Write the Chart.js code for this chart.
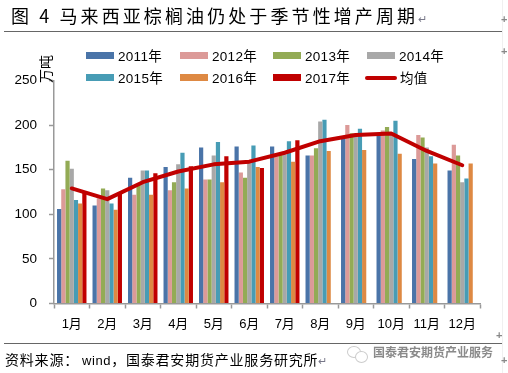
<!DOCTYPE html>
<html>
<head>
<meta charset="utf-8">
<script src="https://cdn.jsdelivr.net/npm/chart.js@4"></script>
<style>
  html, body { margin: 0; padding: 0; background: #fff; }
  #wrap { position: relative; width: 508px; height: 373px; overflow: hidden; font-family: "Liberation Sans", "Noto Sans CJK SC", sans-serif; color: #000; }
  #wrap canvas { position: absolute; left: 0; top: 0; }
  .abs { position: absolute; white-space: nowrap; }
  .rule { position: absolute; left: 4px; width: 498px; height: 1px; background: #666; }
  .mark { position: absolute; color: #888; font-size: 11px; font-weight: bold; line-height: 11px; }
  .para { color: #778; font-size: 11px; }
  .swatch { position: absolute; height: 7px; width: 28px; }
  .circle { position: absolute; border: 1px solid #ccc; border-radius: 50%; background: #fff; }
</style>
</head>
<body>
<div id="wrap">
  <canvas id="chart" width="508" height="373"></canvas>
  <div class="abs" style="left:11px;top:2px;font:18px/26px 'Noto Sans CJK SC';letter-spacing:3.1px">图 4 马来西亚棕榈油仍处于季节性增产周期<span class="para">↵</span></div>
  <div class="rule" style="top:31px"></div>
  <div class="rule" style="top:343px"></div>
  <div style="position:absolute;left:502px;top:0;width:1px;height:373px;background:#f0f0f0"></div>
  <div class="mark" style="left:501px;top:14px">+</div>
  <div class="mark" style="left:501px;top:46px">+</div>
  <div class="mark" style="left:496px;top:330px">+</div>
  <div class="mark" style="left:501px;top:355px">+</div>
  <div class="abs" style="left:30px;top:61px;width:30px;height:16px;font:14px/16px 'Noto Sans CJK SC';text-align:center;transform:rotate(-90deg)">万吨</div>
  <div id="legend"></div>
  <div class="abs" style="left:5px;top:348px;font:14px/22px 'Noto Sans CJK SC';letter-spacing:0.8px">资料来源：<span style="font:13px 'Liberation Sans';letter-spacing:0.6px;margin-left:3px">wind</span>，国泰君安期货产业服务研究所<span class="para">↵</span></div>
  <div class="circle" style="left:347px;top:346px;width:12px;height:10px"></div>
  <div class="circle" style="left:355px;top:351px;width:11px;height:10px"></div>
  <div class="abs" style="left:373px;top:343px;font:12px/18px 'Noto Sans CJK SC';color:#8a8a8a;font-weight:bold">国泰君安期货产业服务</div>
</div>
<script>
const months = ['1月', '2月', '3月', '4月', '5月', '6月', '7月', '8月', '9月', '10月', '11月', '12月'];
const y2011 = [106, 110, 141, 153, 175, 176, 176, 166, 185, 190, 162, 149];
const y2012 = [128, 118, 122, 127, 139, 147, 165, 166, 200, 194, 189, 178];
const y2013 = [160, 129, 133, 136, 139, 141, 167, 174, 191, 198, 186, 166];
const y2014 = [151, 127, 149, 156, 166, 158, 167, 204, 191, 191, 175, 136];
const y2015 = [116, 112, 149, 169, 181, 177, 182, 206, 196, 205, 165, 140];
const y2016 = [112, 105, 122, 129, 136, 153, 159, 171, 172, 168, 157, 157];
const y2017 = [126, 125, 146, 154, 165, 152, 183, null, null, null, null, null];
const mean = [129, 117, 136, 148, 156, 159, 169, 182, 189, 190.5, 171, 155];
const yTicks = [0, 50, 100, 150, 200, 250];

const colors = ['#4A74A8', '#DC9A98', '#93AB55', '#A8A8A8', '#479CB5', '#DE8943', '#C00000'];
const names = ['2011年', '2012年', '2013年', '2014年', '2015年', '2016年', '2017年'];
const series = [y2011, y2012, y2013, y2014, y2015, y2016, y2017];

const datasets = series.map((s, i) => ({
  type: 'bar',
  label: names[i],
  data: s,
  backgroundColor: colors[i],
  barPercentage: 1,
  categoryPercentage: 0.83,
  order: 1
}));
datasets.push({
  type: 'line',
  label: '均值',
  data: mean,
  borderColor: '#C00000',
  borderWidth: 4,
  borderCapStyle: 'round',
  borderJoinStyle: 'round',
  pointRadius: 0,
  tension: 0,
  order: 0
});

new Chart(document.getElementById('chart'), {
  data: { labels: months, datasets: datasets },
  options: {
    responsive: false,
    animation: false,
    layout: { padding: { left: 0, top: 80.5, right: 28, bottom: 0 } },
    plugins: { legend: { display: false }, tooltip: { enabled: false } },
    scales: {
      x: {
        offset: true,
        afterFit: s => { s.height = 69.5; },
        border: { color: '#999', width: 1.5 },
        grid: { offset: true, drawOnChartArea: false, tickColor: '#999', tickLength: 5, tickWidth: 1.5 },
        ticks: { color: '#000', padding: 8, maxRotation: 0, autoSkip: false, font: { size: 13, family: '"Liberation Sans", "Noto Sans CJK SC"' } }
      },
      y: {
        min: 0,
        max: 250,
        afterFit: s => { s.width = 54; },
        afterBuildTicks: s => { s.ticks = yTicks.map(v => ({ value: v })); },
        border: { color: '#999', width: 1.5 },
        grid: { drawOnChartArea: false, tickColor: '#999', tickLength: 5, tickWidth: 1.5 },
        ticks: { color: '#000', padding: 12, font: { size: 13.5, family: '"Liberation Sans"' } }
      }
    }
  }
});

// legend built from the same names and colours, two rows of four
const legendEl = document.getElementById('legend');
const colX = [86, 180, 273, 367];
datasets.forEach((d, i) => {
  const x = colX[i % 4], rowY = i < 4 ? 52 : 74;
  const isLine = d.type === 'line';
  const sw = document.createElement('div');
  sw.className = 'swatch';
  sw.style.left = (isLine ? x - 2 : x) + 'px';
  sw.style.width = (isLine ? 32 : 28) + 'px';
  sw.style.top = (isLine ? rowY + 1.5 : rowY) + 'px';
  sw.style.height = (isLine ? 4 : 7) + 'px';
  sw.style.borderRadius = isLine ? '2px' : '0';
  sw.style.background = isLine ? d.borderColor : d.backgroundColor;
  legendEl.appendChild(sw);
  const t = document.createElement('div');
  t.className = 'abs';
  t.textContent = d.label;
  t.style.left = (isLine ? x + 33 : x + 32) + 'px';
  t.style.top = (rowY - 4) + 'px';
  t.style.font = '13.5px/18px "Liberation Sans", "Noto Sans CJK SC"';
  t.style.letterSpacing = '0.3px';
  legendEl.appendChild(t);
});
</script>
</body>
</html>
